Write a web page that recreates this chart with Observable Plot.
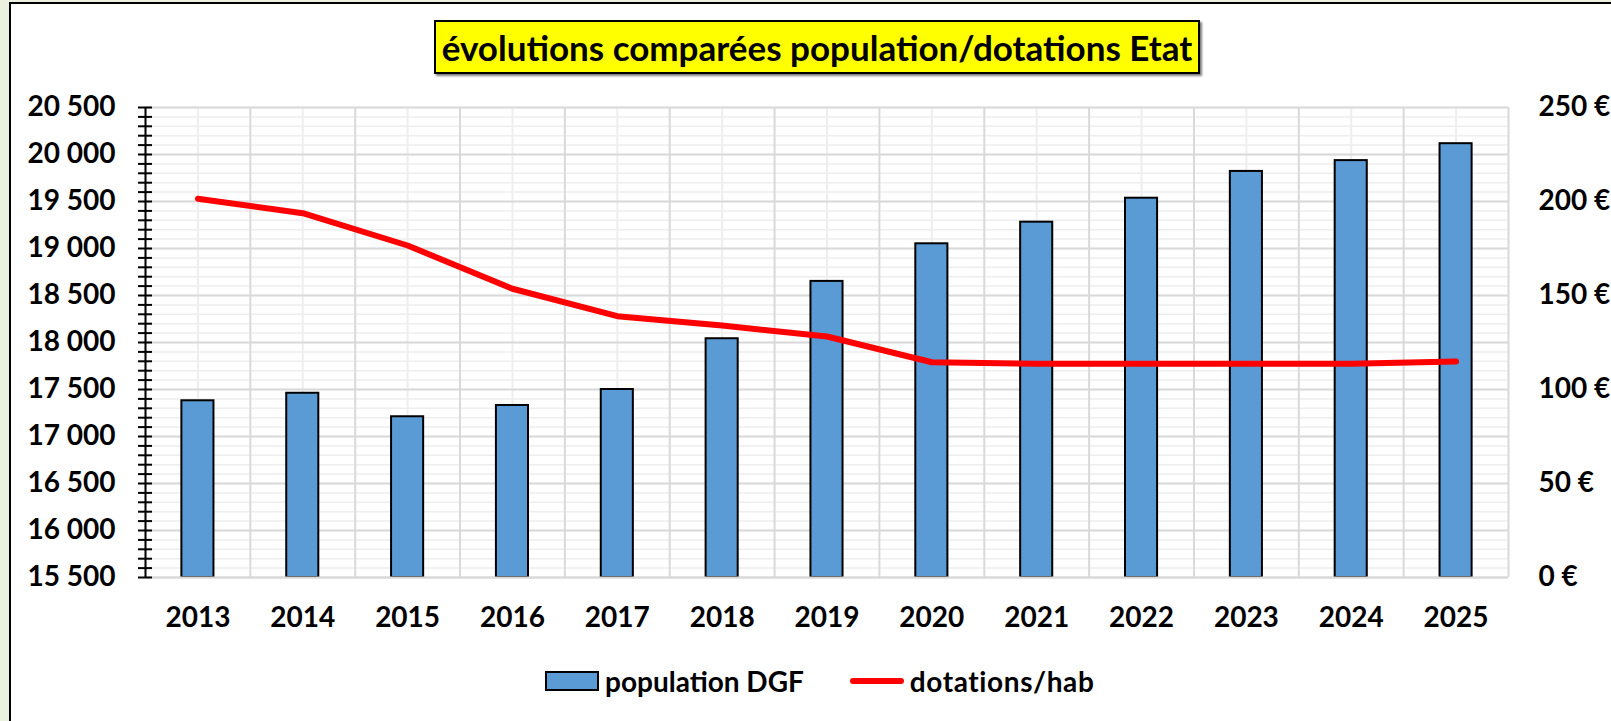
<!DOCTYPE html>
<html>
<head>
<meta charset="utf-8">
<script src="https://cdn.jsdelivr.net/npm/d3@7"></script>
<script src="https://cdn.jsdelivr.net/npm/@observablehq/plot@0.6"></script>
<style>
  html, body { margin: 0; padding: 0; background: #EBF1DE; }
  #page { position: relative; width: 1611px; height: 721px; overflow: hidden; background: #EBF1DE; font-family: Lato, "Open Sans", sans-serif; font-weight: 700; color: #000; }
  #frame { position: absolute; left: 9px; top: 2px; width: 1700px; height: 800px; border: 2px solid #000; background: #fff; }
  #title { position: absolute; left: 434px; top: 20px; width: 766px; height: 54px; box-sizing: border-box; border: 2px solid #000; background: #FFFF00; box-shadow: 2px 2px 2px #7f7f7f; display: flex; align-items: center; justify-content: center; font-size: 35px; font-weight: 700; white-space: nowrap; }
  #chart { position: absolute; left: 0; top: 80px; }
  #legend { position: absolute; left: 545px; top: 664px; height: 34px; display: flex; align-items: center; font-size: 28px; font-weight: 700; white-space: nowrap; }
  .sw-bar { width: 50px; height: 16px; background: #5B9BD5; border: 2px solid #000; margin-right: 6px; }
  .sw-line { width: 54px; height: 6px; border-radius: 3px; background: #FF0000; margin-left: 46px; margin-right: 6px; }
  .lg2 { letter-spacing: 0.6px; }
</style>
</head>
<body>
<div id="page">
  <div id="frame"></div>
  <div id="chart"></div>
  <div id="title">évolutions comparées population/dotations Etat</div>
  <div id="legend"><span class="sw-bar"></span><span>population DGF</span><span class="sw-line"></span><span class="lg2">dotations/hab</span></div>
</div>
<script>
// ---- data ----
const years = [2013, 2014, 2015, 2016, 2017, 2018, 2019, 2020, 2021, 2022, 2023, 2024, 2025];
const population = [17380, 17460, 17210, 17330, 17500, 18040, 18650, 19050, 19280, 19535, 19820, 19935, 20115];
const dotations = [201.5, 193.8, 176.6, 153.6, 139.0, 134.0, 128.2, 114.5, 113.7, 113.7, 113.7, 113.7, 114.9];
const leftTicks = [15500, 16000, 16500, 17000, 17500, 18000, 18500, 19000, 19500, 20000, 20500];
const rightTicks = [0, 50, 100, 150, 200, 250];

const yMin = 15500, yMax = 20500, rMax = 250;
const toLeft = v => yMin + v * (yMax - yMin) / rMax;
const fromLeft = d => (d - yMin) * rMax / (yMax - yMin);

const minorTicks = d3.range(yMin, yMax + 1, 100);
const boundaries = d3.range(years[0] - 0.5, years[years.length - 1] + 1, 1);
const data = years.map((year, i) => ({year, population: population[i], dotation: dotations[i]}));
const fmt = d => String(d).replace(/\B(?=(\d{3})+(?!\d))/g, " ");
const halfBar = 0.153;

const chart = Plot.plot({
  width: 1611,
  height: 560,
  marginLeft: 145,
  marginRight: 103,
  marginTop: 27,
  marginBottom: 63,
  x: {type: "linear", domain: [years[0] - 0.5, years[years.length - 1] + 0.5], label: null},
  y: {domain: [yMin, yMax], label: null},
  style: {fontFamily: "Lato, 'Open Sans', sans-serif", fontWeight: 700, fontSize: "28px", color: "#000", background: "transparent", overflow: "visible"},
  marks: [
    Plot.gridY(minorTicks, {stroke: "#EEEEEE", strokeOpacity: 1, strokeWidth: 1.5}),
    Plot.gridX(years, {stroke: "#EEEEEE", strokeOpacity: 1, strokeWidth: 2}),
    Plot.gridY(leftTicks, {stroke: "#D9D9D9", strokeOpacity: 1, strokeWidth: 2}),
    Plot.gridX(boundaries, {stroke: "#D9D9D9", strokeOpacity: 1, strokeWidth: 2}),
    Plot.rectY(data, {x1: d => d.year - halfBar, x2: d => d.year + halfBar, y1: yMin, y2: "population", fill: "#5B9BD5", stroke: "#000", strokeWidth: 2}),
    Plot.ruleY([yMin], {stroke: "#D9D9D9", strokeWidth: 2}),
    Plot.line(data, {x: "year", y: d => toLeft(d.dotation), stroke: "#FF0000", strokeWidth: 6, strokeLinecap: "round", strokeLinejoin: "round"}),
    Plot.ruleX([years[0] - 0.5], {y1: yMin, y2: yMax, stroke: "#000", strokeWidth: 2}),
    Plot.axisY(minorTicks, {tickSize: 14, dx: 7, fill: "none", stroke: "#000", strokeWidth: 2}),
    Plot.axisY(leftTicks, {tickSize: 0, tickPadding: 30, tickFormat: fmt}),
    Plot.axisY(rightTicks.map(toLeft), {anchor: "right", tickSize: 0, tickPadding: 30, tickFormat: d => `${Math.round(fromLeft(d))} €`}),
    Plot.axisX(years, {tickSize: 0, tickPadding: 30, tickFormat: d => String(d)})
  ]
});
document.getElementById("chart").appendChild(chart);
</script>
</body>
</html>
